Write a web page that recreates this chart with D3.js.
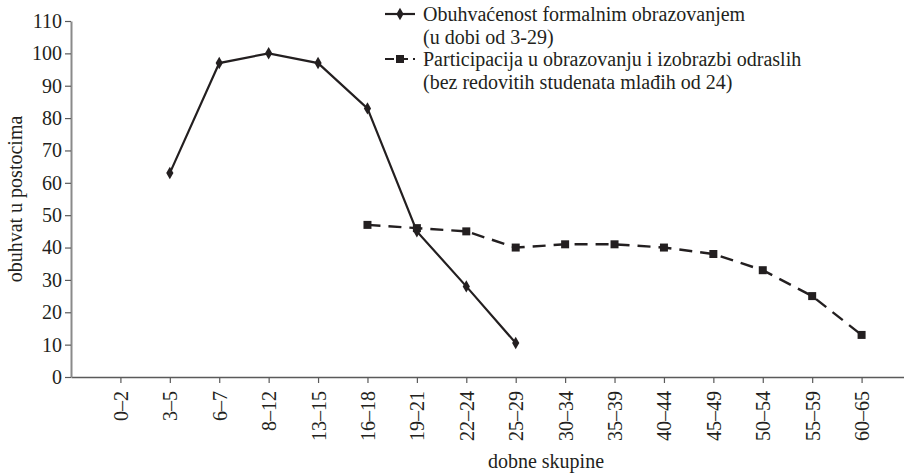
<!DOCTYPE html>
<html>
<head>
<meta charset="utf-8">
<script src="https://cdn.jsdelivr.net/npm/d3@7/dist/d3.min.js"></script>
<style>
  body { margin: 0; background: #fff; }
  text { font-family: "Liberation Serif", "DejaVu Serif", "Times New Roman", serif; fill: #231f20; }
</style>
</head>
<body>
<div id="chart"></div>
<script>
//set the dimensions of the graph
const width = 904;
const height = 474;

//age groups on the x axis
const ageGroups = ["0–2", "3–5", "6–7", "8–12", "13–15", "16–18", "19–21", "22–24",
  "25–29", "30–34", "35–39", "40–44", "45–49", "50–54", "55–59", "60–65"];

//formal education coverage (ages 3-29), null = no value
const formalValues = [null, 63, 97, 100, 97, 83, 45, 28, 10.5,
  null, null, null, null, null, null, null];

//adult education participation
const adultValues = [null, null, null, null, null, 47, 46, 45, 40,
  41, 41, 40, 38, 33, 25, 13];

const yTicks = [0, 10, 20, 30, 40, 50, 60, 70, 80, 90, 100, 110];

const legendLabels = [
  ["Obuhvaćenost formalnim obrazovanjem", "(u dobi od 3-29)"],
  ["Participacija u obrazovanju i izobrazbi odraslih", "(bez redovitih studenata mlađih od 24)"]
];

const ink = "#231f20";
const fontSize = 20;
const serif = "'Liberation Serif', 'DejaVu Serif', 'Times New Roman', serif";

const svg = d3.select("#chart")
  .append("svg")
  .attr("width", width)
  .attr("height", height);

//x scale: one empty slot on each side so the axis starts at the y axis
const xScale = d3.scalePoint()
  .domain(["", ...ageGroups, " "])
  .range([71, 911]);

const yScale = d3.scaleLinear()
  .domain([0, 110])
  .range([377, 21]);

//x axis
const xAxis = svg.append("g")
  .attr("transform", `translate(0, ${yScale(0)})`)
  .call(d3.axisBottom(xScale).tickValues(ageGroups).tickSize(6).tickSizeOuter(0));

xAxis.attr("font-family", serif);
xAxis.select(".domain").attr("stroke", "#5a5a5a").attr("stroke-width", 1.5);
xAxis.selectAll(".tick line").attr("stroke", "#5a5a5a").attr("stroke-width", 1.2);
xAxis.selectAll(".tick text")
  .attr("transform", "rotate(-90)")
  .attr("text-anchor", "end")
  .attr("x", -14)
  .attr("y", 0)
  .attr("dy", "0.35em")
  .attr("font-size", fontSize)
  .attr("fill", ink);

//y axis
const yAxis = svg.append("g")
  .attr("transform", "translate(71, 0)")
  .call(d3.axisLeft(yScale).tickValues(yTicks).tickSize(6).tickSizeOuter(0).tickPadding(3));

yAxis.attr("font-family", serif);
yAxis.select(".domain").attr("stroke", "#8a8a8a").attr("stroke-width", 2);
yAxis.selectAll(".tick line").attr("stroke", "#5a5a5a").attr("stroke-width", 1.2);
yAxis.selectAll(".tick text")
  .attr("font-size", fontSize)
  .attr("fill", ink);

//axis titles
svg.append("text")
  .attr("transform", "rotate(-90)")
  .attr("x", -199)
  .attr("y", 22)
  .attr("text-anchor", "middle")
  .attr("font-size", fontSize)
  .text("obuhvat u postocima");

svg.append("text")
  .attr("x", 546)
  .attr("y", 468)
  .attr("text-anchor", "middle")
  .attr("font-size", fontSize)
  .text("dobne skupine");

//line generator, skips missing values
const line = d3.line()
  .defined((d) => d.v != null)
  .x((d) => xScale(d.age))
  .y((d) => yScale(d.v));

const formalData = ageGroups.map((age, i) => ({ age: age, v: formalValues[i] }));
const adultData = ageGroups.map((age, i) => ({ age: age, v: adultValues[i] }));

//formal education: solid line with diamonds
svg.append("path")
  .datum(formalData)
  .attr("d", line)
  .attr("fill", "none")
  .attr("stroke", ink)
  .attr("stroke-width", 2.2);

svg.selectAll(".diamond")
  .data(formalData.filter((d) => d.v != null))
  .enter()
  .append("path")
  .attr("class", "diamond")
  .attr("d", d3.symbol(d3.symbolDiamond, 45))
  .attr("transform", (d) => `translate(${xScale(d.age)}, ${yScale(d.v)})`)
  .attr("fill", ink);

//adult education: dashed line with squares
svg.append("path")
  .datum(adultData)
  .attr("d", line)
  .attr("fill", "none")
  .attr("stroke", ink)
  .attr("stroke-width", 2.4)
  .attr("stroke-dasharray", "13,8");

svg.selectAll(".square")
  .data(adultData.filter((d) => d.v != null))
  .enter()
  .append("path")
  .attr("class", "square")
  .attr("d", d3.symbol(d3.symbolSquare, 64))
  .attr("transform", (d) => `translate(${xScale(d.age)}, ${yScale(d.v)})`)
  .attr("fill", ink);

//legend
const legend = svg.append("g").attr("transform", "translate(385, 0)");
const legendRows = [14, 59];

legendRows.forEach((cy, i) => {
  legend.append("line")
    .attr("x1", 0)
    .attr("x2", 30)
    .attr("y1", cy)
    .attr("y2", cy)
    .attr("stroke", ink)
    .attr("stroke-width", 2.2)
    .attr("stroke-dasharray", i === 0 ? null : "9,5");

  legend.append("path")
    .attr("d", d3.symbol(i === 0 ? d3.symbolDiamond : d3.symbolSquare, i === 0 ? 45 : 64))
    .attr("transform", `translate(15, ${cy})`)
    .attr("fill", ink);

  legendLabels[i].forEach((label, j) => {
    legend.append("text")
      .attr("x", 38)
      .attr("y", cy + 7 + j * 22.5)
      .attr("font-size", fontSize)
      .text(label);
  });
});
</script>
</body>
</html>
